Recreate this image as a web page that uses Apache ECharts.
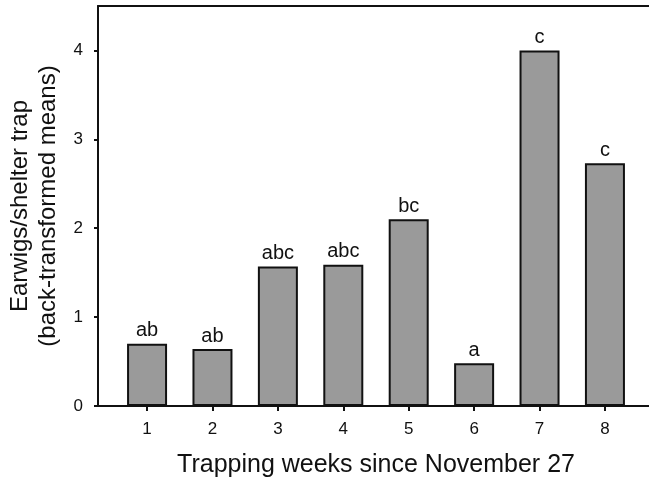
<!DOCTYPE html>
<html>
<head>
<meta charset="utf-8">
<script src="https://cdn.jsdelivr.net/npm/echarts@6/dist/echarts.min.js"></script>
<style>
  html, body { margin: 0; padding: 0; background: #fff; }
  #chart { width: 649px; height: 487px; }
</style>
</head>
<body>
<div id="chart"></div>
<script>
// Trapping week number (x positions)
const weeks = [1, 2, 3, 4, 5, 6, 7, 8];
// Back-transformed mean earwigs per shelter trap
const means = [0.70, 0.64, 1.57, 1.59, 2.10, 0.48, 4.00, 2.73];
// Mean-separation letters shown above each bar
const letters = ['ab', 'ab', 'abc', 'abc', 'bc', 'a', 'c', 'c'];
// Y-axis tick values
const yTicks = [0, 1, 2, 3, 4];

const FONT = '"Liberation Sans", Arial, Helvetica, sans-serif';
const INK = '#111';

const chart = echarts.init(document.getElementById('chart'), null, { renderer: 'canvas' });

chart.setOption({
  animation: false,
  backgroundColor: '#fff',
  textStyle: { fontFamily: FONT, color: INK },
  grid: { left: 98, top: 6, width: 556, bottom: 81, containLabel: false, outerBoundsMode: 'none' },
  xAxis: [
    {
      type: 'value',
      position: 'bottom',
      min: 0.25,
      max: 8.75,
      name: 'Trapping weeks since November 27',
      nameLocation: 'middle',
      nameGap: 47,
      nameTextStyle: { fontFamily: FONT, fontSize: 25, color: INK },
      axisLine: { show: true, onZero: false, lineStyle: { color: INK, width: 2 } },
      axisTick: { show: true, customValues: weeks, length: 5, lineStyle: { color: INK, width: 2 } },
      axisLabel: { customValues: weeks, margin: 15, fontFamily: FONT, fontSize: 17, color: INK },
      splitLine: { show: false }
    },
    {
      type: 'value',
      position: 'top',
      min: 0.25,
      max: 8.75,
      axisLine: { show: true, onZero: false, lineStyle: { color: INK, width: 2 } },
      axisTick: { show: false },
      axisLabel: { show: false },
      splitLine: { show: false }
    }
  ],
  yAxis: {
    type: 'value',
    min: 0,
    max: 4.5,
    name: 'Earwigs/shelter trap\n(back-transformed means)',
    nameLocation: 'middle',
    nameGap: 35,
    nameTextStyle: { fontFamily: FONT, fontSize: 24, color: INK, lineHeight: 28 },
    axisLine: { show: true, onZero: false, lineStyle: { color: INK, width: 2 } },
    axisTick: { show: true, customValues: yTicks, length: 4, lineStyle: { color: INK, width: 2 } },
    axisLabel: { customValues: yTicks, margin: 15, fontFamily: FONT, fontSize: 17, color: INK },
    splitLine: { show: false }
  },
  series: [{
    type: 'bar',
    xAxisIndex: 0,
    barWidth: 40,
    data: weeks.map((w, i) => [w, means[i]]),
    itemStyle: { color: '#9a9a9a', borderColor: '#111', borderWidth: 2 },
    label: {
      show: true,
      position: 'top',
      distance: 3,
      fontFamily: FONT,
      fontSize: 20,
      color: INK,
      formatter: p => letters[p.dataIndex]
    }
  }]
});
</script>
</body>
</html>
